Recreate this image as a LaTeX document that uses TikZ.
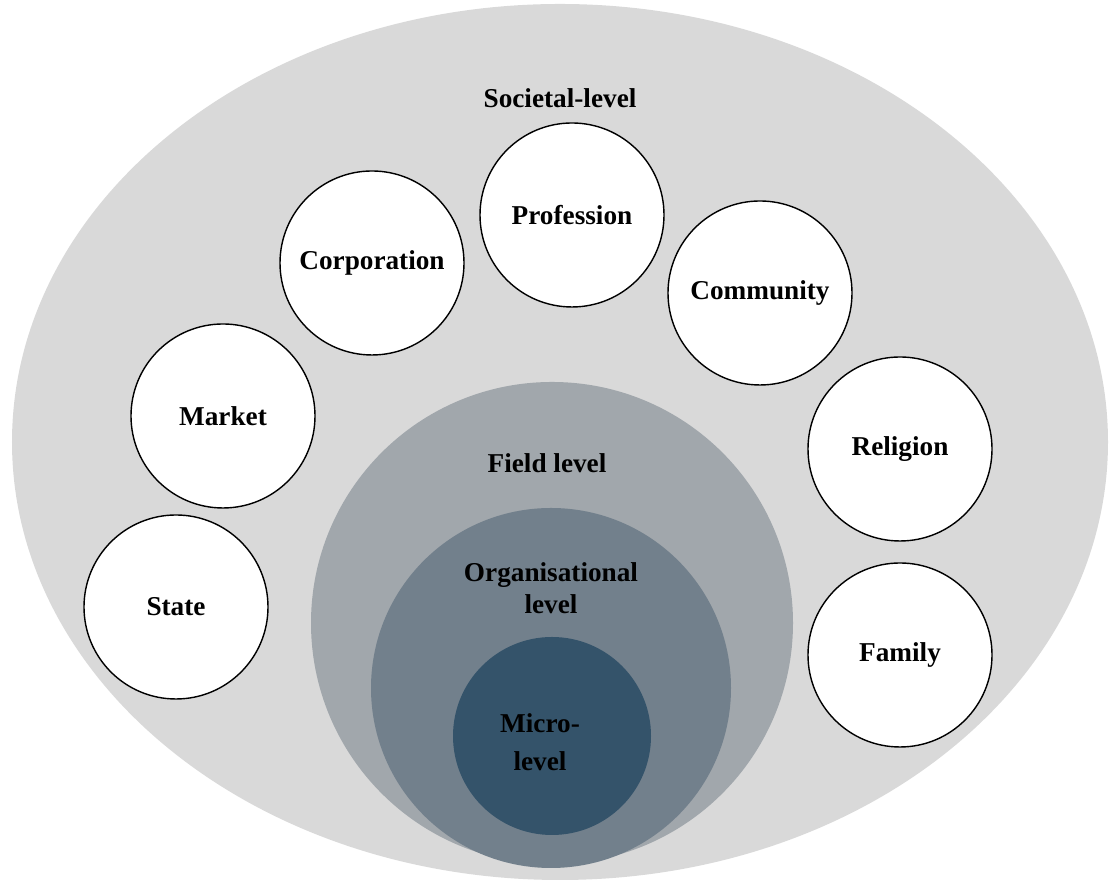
\documentclass[tikz,border=0pt]{standalone}
\usepackage{fontspec}
\setmainfont{Liberation Serif}
\usepackage{tikz}
\usetikzlibrary{positioning,calc}
\usetikzlibrary{shapes}

\definecolor{societygray}{HTML}{D9D9D9}
\definecolor{fieldgray}{HTML}{A1A7AC}
\definecolor{orggray}{HTML}{72808C}
\definecolor{microblue}{HTML}{34536A}

\tikzset{
  logic/.style={draw, circle, fill=white, line width=0.8pt, minimum size=3.68cm, inner sep=0pt, font=\bfseries\fontsize{15.5}{18}\selectfont},
  level/.style={circle, draw=none, inner sep=0pt},
  leveltext/.style={align=center, font=\bfseries\fontsize{15.5}{18}\selectfont}
}

\begin{document}
\begin{tikzpicture}
  % \draw[step=1cm, gray!20!white, very thin] (0,0) grid (22,17);
  \useasboundingbox (0,0) rectangle (22.28,17.68);

  \node[ellipse, fill=societygray, minimum width=21.92cm, minimum height=17.52cm, inner sep=0pt] at (11.2, 8.84) (n_society) {};
  \node[leveltext] at (11.2, 15.72) (t_society) {Societal-level};

  \node[logic] at (7.44, 12.42) (n_corporation) {Corporation};
  \node[logic] at (11.44, 13.38) (n_profession) {Profession};
  \node[logic] at (15.2, 11.82) (n_community) {Community};
  \node[logic] at (4.46, 9.36) (n_market) {Market};
  \node[logic] at (18.0, 8.70) (n_religion) {Religion};
  \node[logic] at (3.52, 5.54) (n_state) {State};
  \node[logic] at (18.0, 4.58) (n_family) {Family};

  \node[level, fill=fieldgray, minimum size=9.64cm] at (11.04, 5.22) (n_field) {};
  \node[level, fill=orggray, minimum size=7.2cm] at (11.02, 3.92) (n_org) {};
  \node[level, fill=microblue, minimum size=3.96cm] at (11.04, 2.96) (n_micro) {};

  \node[leveltext] at (10.94, 8.42) (t_field) {Field level};
  \node[leveltext, text depth=0pt] at (11.02, 5.92) (t_org) {Organisational\\level};
  \node[leveltext, font=\bfseries\fontsize{15.5}{21.6}\selectfont] at (10.8, 2.84) (t_micro) {Micro-\\level};

\end{tikzpicture}
\end{document}
